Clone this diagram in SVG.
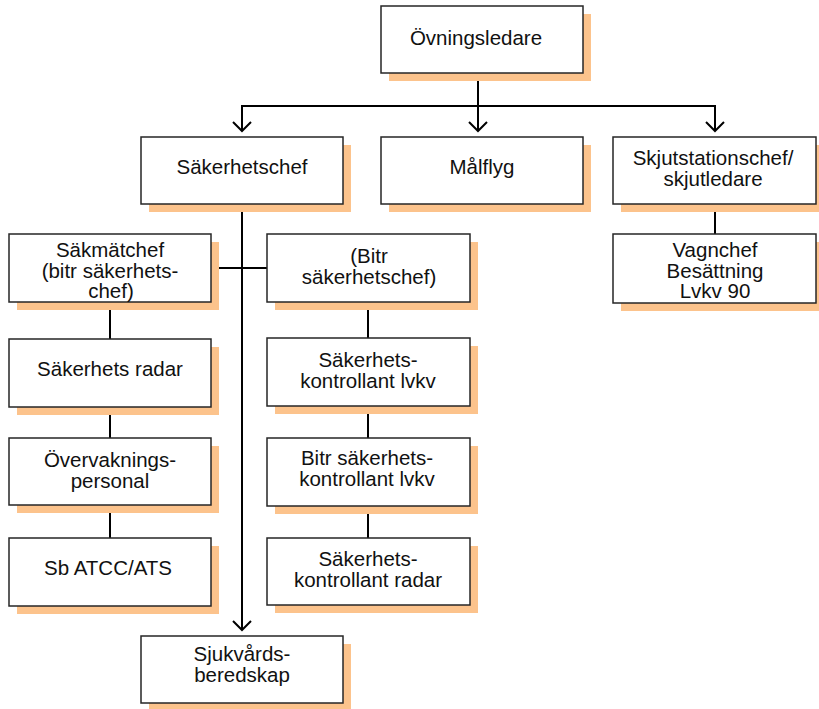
<svg xmlns="http://www.w3.org/2000/svg" width="819" height="709" viewBox="0 0 819 709">
<style>
.sh{fill:#FCC38C;stroke:none}
.bx{fill:#fff;stroke:#262626;stroke-width:1.5}
.t{font-family:"Liberation Sans",Arial,sans-serif;font-size:20.5px;fill:#111;text-anchor:middle}
.c{stroke:#000;stroke-width:2;fill:none}
</style>
<defs>
<marker id="ah" markerUnits="userSpaceOnUse" markerWidth="24" markerHeight="24" viewBox="-12 -12 24 24" refX="0" refY="0" orient="auto">
<path d="M-9,-9 L0,0 L-9,9" fill="none" stroke="#000" stroke-width="2"/>
</marker>
</defs>
<rect width="819" height="709" fill="#fff"/>
<g id="connectors">
<line class="c" x1="478" y1="73" x2="478" y2="106"/>
<line class="c" x1="241" y1="106" x2="716" y2="106"/>
<line class="c" x1="242" y1="106" x2="242" y2="131" marker-end="url(#ah)"/>
<line class="c" x1="478" y1="106" x2="478" y2="131" marker-end="url(#ah)"/>
<line class="c" x1="715" y1="106" x2="715" y2="131" marker-end="url(#ah)"/>
<line class="c" x1="242" y1="204" x2="242" y2="630" marker-end="url(#ah)"/>
<line class="c" x1="211" y1="268" x2="267" y2="268"/>
<line class="c" x1="715" y1="204" x2="715" y2="234"/>
<line class="c" x1="110" y1="302" x2="110" y2="339"/>
<line class="c" x1="110" y1="407" x2="110" y2="438"/>
<line class="c" x1="110" y1="505" x2="110" y2="538"/>
<line class="c" x1="368" y1="302" x2="368" y2="338"/>
<line class="c" x1="368" y1="406" x2="368" y2="438"/>
<line class="c" x1="368" y1="506" x2="368" y2="538"/>
</g>
<g id="ovningsledare">
<rect class="sh" x="389" y="14" width="202" height="67"/>
<rect class="bx" x="381" y="6" width="202" height="67"/>
<text class="t" x="476" y="45">Övningsledare</text>
</g>
<g id="sakerhetschef">
<rect class="sh" x="149" y="145" width="202" height="67"/>
<rect class="bx" x="141" y="137" width="202" height="67"/>
<text class="t" x="242" y="174">Säkerhetschef</text>
</g>
<g id="malflyg">
<rect class="sh" x="389" y="145" width="202" height="67"/>
<rect class="bx" x="381" y="137" width="202" height="67"/>
<text class="t" x="482" y="174">Målflyg</text>
</g>
<g id="skjutstationschef">
<rect class="sh" x="621" y="145" width="203" height="67"/>
<rect class="bx" x="613" y="137" width="203" height="67"/>
<text class="t" x="713" y="165">Skjutstationschef/</text>
<text class="t" x="713" y="186">skjutledare</text>
</g>
<g id="vagnchef">
<rect class="sh" x="621" y="242" width="203" height="69"/>
<rect class="bx" x="613" y="234" width="203" height="69"/>
<text class="t" x="715" y="257">Vagnchef</text>
<text class="t" x="715" y="278">Besättning</text>
<text class="t" x="715" y="298">Lvkv 90</text>
</g>
<g id="sakmatchef">
<rect class="sh" x="17" y="242" width="202" height="68"/>
<rect class="bx" x="9" y="234" width="202" height="68"/>
<text class="t" x="110" y="257">Säkmätchef</text>
<text class="t" x="110" y="278">(bitr säkerhets-</text>
<text class="t" x="111" y="298">chef)</text>
</g>
<g id="bitr-sakerhetschef">
<rect class="sh" x="275" y="242" width="203" height="68"/>
<rect class="bx" x="267" y="234" width="203" height="68"/>
<text class="t" x="369" y="263">(Bitr</text>
<text class="t" x="369" y="284">säkerhetschef)</text>
</g>
<g id="sakerhets-radar">
<rect class="sh" x="17" y="347" width="202" height="68"/>
<rect class="bx" x="9" y="339" width="202" height="68"/>
<text class="t" x="110" y="376">Säkerhets radar</text>
</g>
<g id="sakerhetskontrollant-lvkv">
<rect class="sh" x="275" y="346" width="203" height="68"/>
<rect class="bx" x="267" y="338" width="203" height="68"/>
<text class="t" x="368" y="367">Säkerhets-</text>
<text class="t" x="368" y="388">kontrollant lvkv</text>
</g>
<g id="overvakningspersonal">
<rect class="sh" x="17" y="446" width="202" height="67"/>
<rect class="bx" x="9" y="438" width="202" height="67"/>
<text class="t" x="110" y="467">Övervaknings-</text>
<text class="t" x="110" y="488">personal</text>
</g>
<g id="bitr-sakerhetskontrollant-lvkv">
<rect class="sh" x="275" y="446" width="203" height="68"/>
<rect class="bx" x="267" y="438" width="203" height="68"/>
<text class="t" x="367" y="465">Bitr säkerhets-</text>
<text class="t" x="367" y="486">kontrollant lvkv</text>
</g>
<g id="sb-atcc-ats">
<rect class="sh" x="17" y="546" width="202" height="68"/>
<rect class="bx" x="9" y="538" width="202" height="68"/>
<text class="t" x="108" y="575">Sb ATCC/ATS</text>
</g>
<g id="sakerhetskontrollant-radar">
<rect class="sh" x="275" y="546" width="203" height="67"/>
<rect class="bx" x="267" y="538" width="203" height="67"/>
<text class="t" x="368" y="566">Säkerhets-</text>
<text class="t" x="368" y="587">kontrollant radar</text>
</g>
<g id="sjukvardsberedskap">
<rect class="sh" x="149" y="644" width="202" height="67"/>
<rect class="bx" x="141" y="636" width="202" height="67"/>
<text class="t" x="242" y="661">Sjukvårds-</text>
<text class="t" x="242" y="682">beredskap</text>
</g>
</svg>
